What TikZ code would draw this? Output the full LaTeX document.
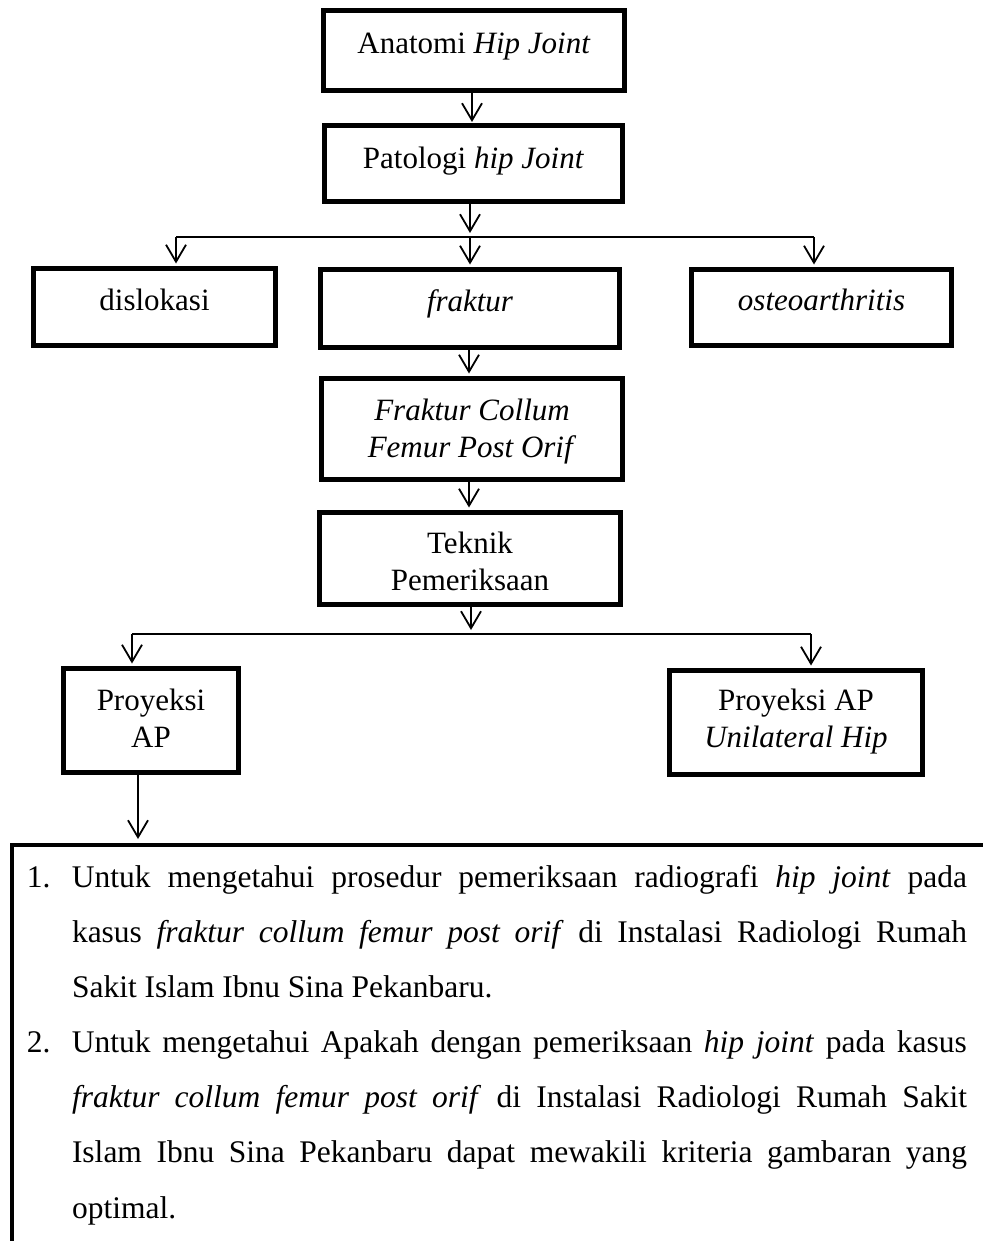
\documentclass[tikz,border=0pt]{standalone}
\usepackage{fontspec}
\setmainfont{Liberation Serif}
\usetikzlibrary{arrows.meta,calc}
\begin{document}
\begin{tikzpicture}[x=1pt,y=-1pt,
  box/.style={draw=black, line width=5pt, inner sep=0pt, outer sep=0pt, rectangle,
    font=\fontsize{31pt}{37pt}\selectfont},
  conn/.style={draw=black, line width=1.8pt},
  arr/.style={conn, -{Straight Barb[length=17pt,width=20pt]}, shorten >=5pt}
]
\fill[white] (0,0) rectangle (982,1241);
\useasboundingbox (0,0) rectangle (982,1241);

% boxes
\node[box, minimum width=301pt, minimum height=80pt, text height=21pt, text depth=14pt] (anat) at (474,50.5) {Anatomi \textit{Hip Joint}};
\node[box, minimum width=298pt, minimum height=76pt, text height=21pt, text depth=10pt] (pato) at (473.5,163.5) {Patologi \textit{hip Joint}};
\node[box, minimum width=242pt, minimum height=77pt, text height=21pt, text depth=15pt] (disl) at (154.5,307) {dislokasi};
\node[box, minimum width=299pt, minimum height=78pt, text height=21pt, text depth=16pt] (frak) at (470,308.5) {\textit{fraktur}};
\node[box, minimum width=260pt, minimum height=76pt, text height=21pt, text depth=16pt] (osteo) at (821.5,307.5) {\textit{osteoarthritis}};
\node[box, minimum width=301pt, minimum height=101pt, text height=20pt, text depth=38pt] (fcol) at (472,429)
  {\begin{tabular}[t]{@{}c@{}}\textit{Fraktur Collum}\\\textit{Femur Post Orif}\end{tabular}};
\node[box, minimum width=301pt, minimum height=92pt, text height=20pt, text depth=31pt] (tek) at (470,558.5)
  {\begin{tabular}[t]{@{}c@{}}Teknik\\Pemeriksaan\end{tabular}};
\node[box, minimum width=175pt, minimum height=104pt, text height=20pt, text depth=41pt] (pap) at (151,720.5)
  {\begin{tabular}[t]{@{}c@{}}Proyeksi\\AP\end{tabular}};
\node[box, minimum width=253pt, minimum height=104pt, text height=20pt, text depth=45pt] (pau) at (796,722.5)
  {\begin{tabular}[t]{@{}c@{}}Proyeksi AP\\\textit{Unilateral Hip}\end{tabular}};

% large bottom box (extends past the page edges)
\node[draw=black, line width=4.7pt, inner xsep=15pt, inner ysep=21pt, outer sep=0pt, anchor=north west,
  text width=1000pt, text height=21pt, text depth=380pt,
  font=\fontsize{31.5pt}{55.17pt}\selectfont] (tujuan) at (12,845) {%
\setlength{\parindent}{0pt}\setlength{\parskip}{0pt}%
\spaceskip=7.8pt plus 60pt minus 1pt\relax\xspaceskip=\spaceskip
\makebox[45pt][l]{1.}\makebox[895pt][s]{Untuk mengetahui prosedur pemeriksaan radiografi \textit{hip joint} pada}\par
\hspace*{45pt}\makebox[895pt][s]{kasus \textit{fraktur collum femur post orif} di Instalasi Radiologi Rumah}\par
\hspace*{45pt}Sakit Islam Ibnu Sina Pekanbaru.\par
\makebox[45pt][l]{2.}\makebox[895pt][s]{Untuk mengetahui Apakah dengan pemeriksaan \textit{hip joint} pada kasus}\par
\hspace*{45pt}\makebox[895pt][s]{\textit{fraktur collum femur post orif} di Instalasi Radiologi Rumah Sakit}\par
\hspace*{45pt}\makebox[895pt][s]{Islam Ibnu Sina Pekanbaru dapat mewakili kriteria gambaran yang}\par
\hspace*{45pt}optimal.};

% junction coordinates
\coordinate (j1) at (470,237);
\coordinate (j1l) at (176,237);
\coordinate (j1r) at (814,237);
\coordinate (j2) at (471,634);
\coordinate (j2l) at (132,634);
\coordinate (j2r) at (811,634);
\coordinate (p1) at ($(pap.south)+(-13,0)$);

% connectors
\draw[arr, shorten >=3.5pt] ($(anat.south)+(-2,0)$) -- ($(pato.north)+(-1.5,0)$);
\draw[arr, shorten >=4pt] ($(pato.south)+(-3.5,0)$) -- (j1);
\draw[conn] (j1l) -- (j1r);
\draw[arr] (j1l) -- (j1l |- disl.north);
\draw[arr] (j1) -- (j1 |- frak.north);
\draw[arr] (j1r) -- (j1r |- osteo.north);
\draw[arr] ($(frak.south)+(-1,0)$) -- ($(fcol.north)+(-3,0)$);
\draw[arr] ($(fcol.south)+(-3,0)$) -- ($(tek.north)+(-1,0)$);
\draw[arr, shorten >=4pt] ($(tek.south)+(1,0)$) -- (j2);
\draw[conn] (j2l) -- (j2r);
\draw[arr] (j2l) -- (j2l |- pap.north);
\draw[arr] (j2r) -- (j2r |- pau.north);
\draw[arr, shorten >=6pt] (p1) -- (p1 |- tujuan.north);
\end{tikzpicture}
\end{document}
